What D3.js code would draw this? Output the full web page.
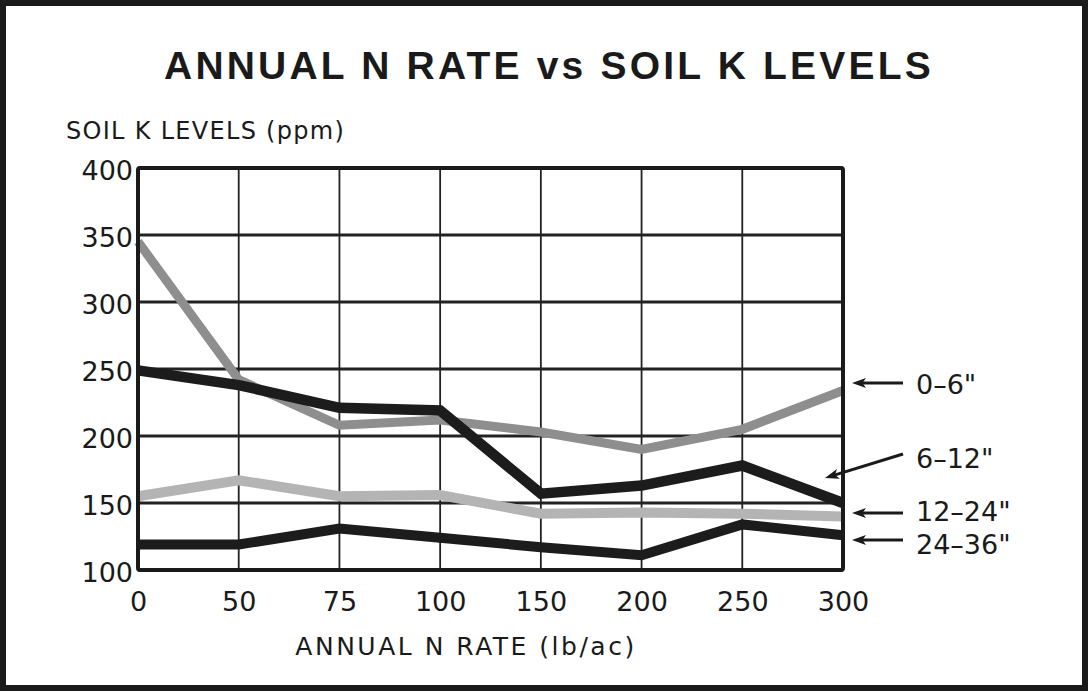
<!DOCTYPE html>
<html><head><meta charset="utf-8">
<script src="https://cdn.jsdelivr.net/npm/d3@7"></script>
<style>body{margin:0;background:#fff}svg{display:block}text{fill:#1a1a1a}</style>
</head><body>
<script>
const categories = ["0","50","75","100","150","200","250","300"];
const yTicks = [100,150,200,250,300,350,400];
const depth0_6   = [345,242,208,212,203,190,205,234];
const depth6_12  = [249,238,221,219,157,163,178,150];
const depth12_24 = [155,167,155,156,142,143,142,140];
const depth24_36 = [119,119,131,124,117,111,134,126];
const seriesNames = ['0–6"','6–12"','12–24"','24–36"'];

const W=1088,H=691;
const FS="DejaVu Sans, Verdana, sans-serif";
const svg=d3.select("body").append("svg").attr("width",W).attr("height",H);
svg.append("rect").attr("x",3).attr("y",3).attr("width",W-6).attr("height",H-6)
  .attr("fill","#fff").attr("stroke","#1a1a1a").attr("stroke-width",6);

const L=138,R=843,T=168,B=570;
const x=d3.scalePoint().domain(categories).range([L,R]);
const y=d3.scaleLinear().domain([100,400]).range([B,T]);

svg.append("text").attr("x",549).attr("y",79).attr("text-anchor","middle")
  .attr("font-family","Liberation Sans, Arial, sans-serif")
  .attr("font-size",39).attr("font-weight","bold").attr("letter-spacing",3.2)
  .text("ANNUAL N RATE vs SOIL K LEVELS");
svg.append("text").attr("x",66).attr("y",139).attr("font-family",FS).attr("font-size",24)
  .attr("letter-spacing",1.3).text("SOIL K LEVELS (ppm)");
svg.append("text").attr("x",466).attr("y",655).attr("text-anchor","middle").attr("font-family",FS)
  .attr("font-size",25).attr("letter-spacing",2.5).text("ANNUAL N RATE (lb/ac)");

// grid
const g=svg.append("g");
g.selectAll(".vg").data(categories).join("line").attr("x1",d=>x(d)).attr("x2",d=>x(d))
  .attr("y1",T).attr("y2",B).attr("stroke","#222").attr("stroke-width",1.8);
g.selectAll(".hg").data(yTicks).join("line").attr("x1",L).attr("x2",R)
  .attr("y1",d=>y(d)).attr("y2",d=>y(d)).attr("stroke","#222").attr("stroke-width",2.8);

// axes via d3
const xa=svg.append("g").attr("transform",`translate(0,${B})`)
  .call(d3.axisBottom(x).tickSize(0).tickPadding(22));
xa.select(".domain").remove();
xa.selectAll("text").attr("font-size",27).attr("fill","#1a1a1a").attr("dy","0.71em")
  .attr("font-family",FS);
const ya=svg.append("g").attr("transform",`translate(${L-5},3)`)
  .call(d3.axisLeft(y).tickValues(yTicks).tickSize(0).tickPadding(0));
ya.select(".domain").remove();
ya.selectAll("text").attr("font-size",27).attr("fill","#1a1a1a").attr("font-family",FS);

// lines
const line=d3.line().x((d,i)=>x(categories[i])).y(d=>y(d));
const series=[
  {v:depth12_24,c:"#b4b4b4",w:10},
  {v:depth0_6,c:"#8e8e8e",w:9},
  {v:depth24_36,c:"#1c1c1c",w:10},
  {v:depth6_12,c:"#1c1c1c",w:10.5}
];
svg.selectAll(".ln").data(series).join("path").attr("d",d=>line(d.v)).attr("fill","none")
  .attr("stroke",d=>d.c).attr("stroke-width",d=>d.w).attr("stroke-linejoin","miter");

// plot border
svg.append("rect").attr("x",L).attr("y",T).attr("width",R-L).attr("height",B-T)
  .attr("fill","none").attr("stroke","#1a1a1a").attr("stroke-width",4).attr("rx",2);

// legend labels with arrows
const legend=[
  {t:seriesNames[0],ly:384,x1:903,y1:383,x2:852,y2:383},
  {t:seriesNames[1],ly:458,x1:903,y1:454,x2:825,y2:478},
  {t:seriesNames[2],ly:511,x1:903,y1:513,x2:852,y2:513},
  {t:seriesNames[3],ly:544,x1:903,y1:540,x2:852,y2:540}
];
function head(d){
  const dx=d.x1-d.x2, dy=d.y1-d.y2, len=Math.hypot(dx,dy), ux=dx/len, uy=dy/len;
  const hl=14, hw=5, bx=d.x2+ux*hl, by=d.y2+uy*hl;
  return `M${d.x2},${d.y2}L${bx-uy*hw},${by+ux*hw}L${d.x2+ux*hl*0.75},${d.y2+uy*hl*0.75}L${bx+uy*hw},${by-ux*hw}Z`;
}
svg.selectAll(".lg").data(legend).join("line").attr("x1",d=>d.x1).attr("y1",d=>d.y1)
  .attr("x2",d=>d.x2+(d.x1-d.x2)*0.1).attr("y2",d=>d.y2+(d.y1-d.y2)*0.1)
  .attr("stroke","#1a1a1a").attr("stroke-width",3);
svg.selectAll(".ah").data(legend).join("path").attr("d",head).attr("fill","#1a1a1a");
svg.selectAll(".lt").data(legend).join("text").attr("x",916).attr("y",d=>d.ly).attr("dy","0.36em")
  .attr("font-family",FS).attr("font-size",27).text(d=>d.t);
</script>
</body></html>
